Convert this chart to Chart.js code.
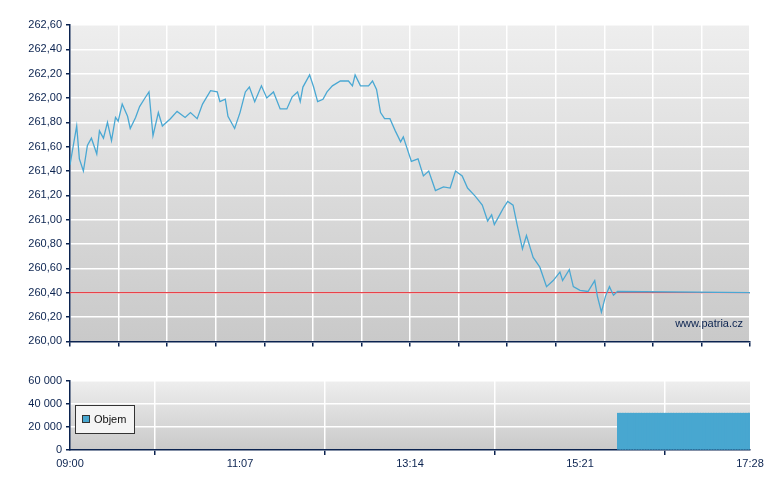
<!DOCTYPE html>
<html><head><meta charset="utf-8">
<script src="https://cdn.jsdelivr.net/npm/chart.js@4"></script>
<style>
body{margin:0;background:#fff;width:780px;height:490px;position:relative;overflow:hidden}
#main{position:absolute;left:0;top:0}
#vol{position:absolute;left:0;top:370px}
</style></head><body>
<canvas id="main" width="780" height="352"></canvas>
<canvas id="vol" width="780" height="120"></canvas>
<script>
// minutes after 09:00
const priceMinutes = [0,2,5,7,10,13,16,20,22,25,28,31,34,36,39,43,45,49,52,56,59,62,66,69,75,80,86,90,95,99,105,110,112,116,118,123,127,131,134,138,143,147,152,157,162,166,170,172,174,179,182,185,189,192,196,202,208,211,213,217,223,226,229,232,235,239,243,247,249,252,255,260,264,268,273,279,284,288,293,297,303,308,312,315,317,321,324,327,331,334,338,341,346,351,356,361,366,368,373,376,381,387,392,394,397,400,403,406,409,508];
const prices = [261.45,261.58,261.77,261.50,261.40,261.61,261.67,261.54,261.73,261.67,261.80,261.65,261.84,261.81,261.95,261.85,261.75,261.84,261.93,262.00,262.05,261.69,261.88,261.77,261.83,261.89,261.84,261.88,261.83,261.95,262.06,262.05,261.97,261.99,261.85,261.75,261.88,262.05,262.09,261.97,262.10,262.00,262.05,261.91,261.91,262.01,262.05,261.97,262.09,262.19,262.09,261.97,261.99,262.05,262.10,262.14,262.14,262.10,262.19,262.10,262.10,262.14,262.07,261.88,261.83,261.83,261.73,261.64,261.68,261.58,261.48,261.50,261.36,261.40,261.24,261.27,261.26,261.40,261.36,261.26,261.19,261.12,260.99,261.04,260.96,261.04,261.10,261.15,261.12,260.96,260.76,260.87,260.69,260.61,260.45,260.50,260.57,260.50,260.59,260.45,260.42,260.41,260.50,260.37,260.24,260.37,260.45,260.38,260.41,260.40,260.40];
const prevClose = 260.40;
const volMinutes = [410,412,414,416,418,420,422,424,426,428,430,432,434,436,438,440,442,444,446,448,450,452,454,456,458,460,462,464,466,468,470,472,474,476,478,480,482,484,486,488,490,492,494,496,498,500,502,504,506,508];
const volumes = [32000,32000,32000,32000,32000,32000,32000,32000,32000,32000,32000,32000,32000,32000,32000,32000,32000,32000,32000,32000,32000,32000,32000,32000,32000,32000,32000,32000,32000,32000,32000,32000,32000,32000,32000,32000,32000,32000,32000,32000,32000,32000,32000,32000,32000,32000,32000,32000,32000,32000];
const timeLabels = {0:'09:00',127:'11:07',254:'13:14',381:'15:21',508:'17:28'};

const navy = '#0b2350';
const font = {family:'Liberation Sans, Arial', size:11};

const bgPlugin = {
  id:'bg',
  beforeDraw(c){
    const a = c.chartArea, ctx = c.ctx;
    const g = ctx.createLinearGradient(0,a.top,0,a.bottom);
    g.addColorStop(0,'#eeeeee'); g.addColorStop(1,'#c9c9c9');
    ctx.save(); ctx.fillStyle = g; ctx.fillRect(a.left,a.top,a.right-a.left,a.bottom-a.top); ctx.restore();
  }
};

new Chart(document.getElementById('main'), {
  type:'line',
  data:{datasets:[
    {data:priceMinutes.map((m,i)=>({x:m,y:prices[i]})),borderColor:'#4aa8d3',borderWidth:1.3,pointRadius:0,tension:0,order:1},
    {data:[{x:0,y:prevClose},{x:508,y:prevClose}],borderColor:'#e8434a',borderWidth:1.2,pointRadius:0,order:2}
  ]},
  options:{
    responsive:false,animation:false,
    layout:{padding:{top:25,right:30}},
    plugins:{legend:{display:false},tooltip:{enabled:false}},
    scales:{
      x:{type:'linear',min:0,max:508,
        afterBuildTicks(s){const t=[];for(let i=0;i<=14;i++)t.push({value:508*i/14});s.ticks=t;},
        afterFit(s){s.height=7;},
        ticks:{display:false},
        grid:{color:'#ffffff',lineWidth:1.5,tickColor:navy,tickLength:5},
        border:{color:navy,width:1.5}},
      y:{min:260,max:262.6,
        afterFit(s){s.width=70;},
        ticks:{stepSize:0.2,color:navy,font,padding:4,callback:v=>v.toFixed(2).replace('.',',')},
        grid:{color:'#ffffff',lineWidth:1.5,tickColor:navy,tickLength:4},
        border:{color:navy,width:1.5}}
    }
  },
  plugins:[bgPlugin,{id:'wm',afterDraw(c){const ctx=c.ctx;ctx.save();ctx.font='11px Liberation Sans, Arial';ctx.fillStyle=navy;ctx.textAlign='right';ctx.fillText('www.patria.cz',743,327);ctx.restore();}}]
});

new Chart(document.getElementById('vol'), {
  type:'bar',
  data:{datasets:[{data:volMinutes.map((m,i)=>({x:m,y:volumes[i]})),backgroundColor:'#48a7d0',barThickness:3}]},
  options:{
    responsive:false,animation:false,
    layout:{padding:{top:11,right:30}},
    plugins:{legend:{display:false},tooltip:{enabled:false}},
    scales:{
      x:{type:'linear',min:0,max:508,offset:false,
        afterBuildTicks(s){s.ticks=Object.keys(timeLabels).map(k=>({value:+k}));},
        afterFit(s){s.height=40;},
        ticks:{color:navy,font,padding:2,maxRotation:0,autoSkip:false,callback:v=>timeLabels[v]},
        grid:{color:'#ffffff',lineWidth:1.5,tickColor:navy,tickLength:5},
        border:{color:navy,width:1.5}},
      y:{min:0,max:60000,
        afterFit(s){s.width=70;},
        ticks:{stepSize:20000,color:navy,font,padding:4,callback:v=>v===0?'0':(v/1000)+' 000'},
        grid:{color:'#ffffff',lineWidth:1.5,tickColor:navy,tickLength:4},
        border:{color:navy,width:1.5}}
    }
  },
  plugins:[bgPlugin,{id:'lg',afterDraw(c){const ctx=c.ctx;ctx.save();
    ctx.fillStyle='#f4f4f4';ctx.fillRect(75.5,35.5,59,28);ctx.strokeStyle='#333';ctx.lineWidth=1;ctx.strokeRect(75.5,35.5,59,28);
    ctx.fillStyle='#48a7d0';ctx.fillRect(82,45,8,8);ctx.strokeRect(82.5,45.5,7,7);
    ctx.fillStyle='#111';ctx.font='11px Liberation Sans, Arial';ctx.textBaseline='middle';ctx.fillText('Objem',94,50);ctx.restore();}}]
});
</script></body></html>
